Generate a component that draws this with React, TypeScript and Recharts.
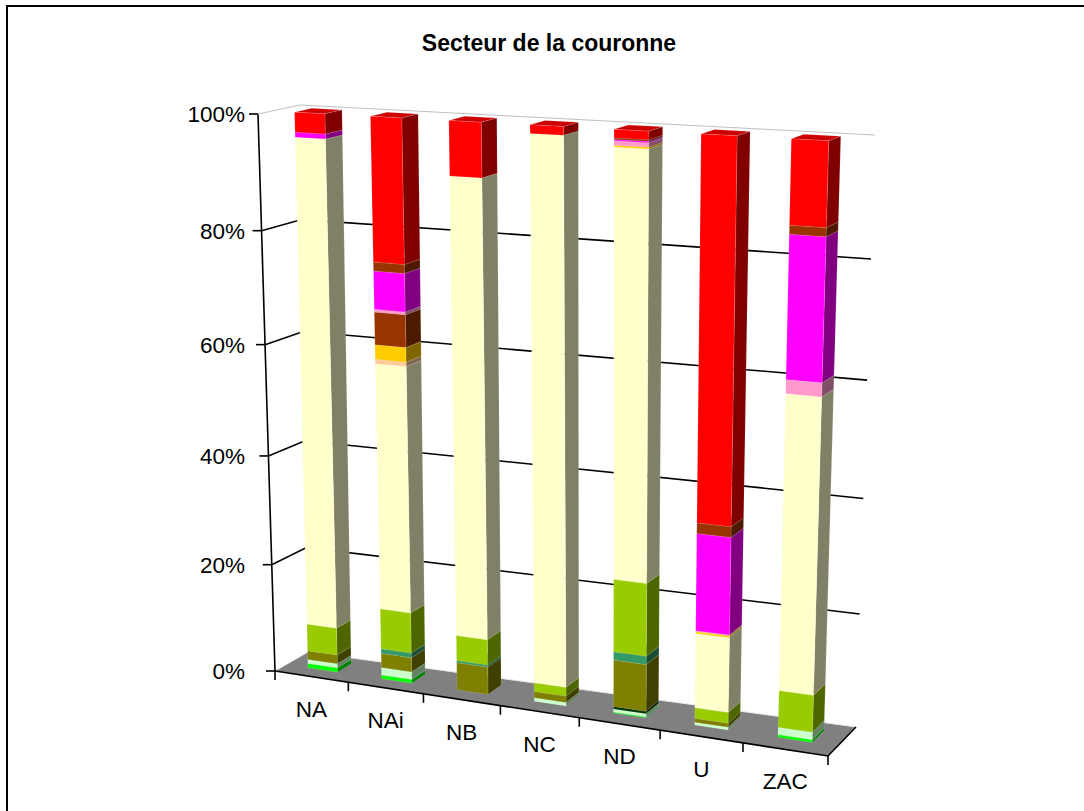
import { BarChart, Bar, XAxis, YAxis, CartesianGrid } from "recharts";

const categories = ["NA", "NAi", "NB", "NC", "ND", "U", "ZAC"];

// share of each land use per sector, bottom of the stack first
const vertVif = [0.83, 0.7, 0, 0, 0.18, 0, 0.48];
const vertPale = [0.76, 1.38, 0, 0.64, 0.54, 0.49, 1.29];
const vertFonce = [0, 0, 0, 0, 0.46, 0, 0];
const olive = [1.66, 2.69, 5.07, 1.16, 8.39, 0.71, 0];
const sarcelle = [0, 0.84, 0.37, 0, 1.49, 0, 0];
const citron = [5.06, 7.45, 4.62, 1.59, 12.89, 1.9, 6.48];
const creme = [87.41, 44.38, 80.68, 95.2, 73.22, 13.18, 50.59];
const peche = [0, 0.76, 0, 0, 0, 0, 0];
const or = [0, 2.57, 0, 0, 0.29, 0.31, 0];
const brique = [0, 5.71, 0, 0, 0, 0, 0];
const rose = [0, 0.49, 0, 0, 0.7, 0.17, 2.32];
const magenta = [0.85, 6.65, 0, 0, 0.23, 16.93, 23.67];
const brun = [0, 1.56, 0, 0, 0.26, 1.83, 1.44];
const rouge = [3.43, 24.82, 9.25, 1.42, 1.38, 64.48, 13.73];

const seriesList: [string, number[], string][] = [
  ["vertVif", vertVif, "#00ff00"],
  ["vertPale", vertPale, "#ccffcc"],
  ["vertFonce", vertFonce, "#003300"],
  ["olive", olive, "#808000"],
  ["sarcelle", sarcelle, "#339966"],
  ["citron", citron, "#99cc00"],
  ["creme", creme, "#ffffcc"],
  ["peche", peche, "#ffcc99"],
  ["or", or, "#ffcc00"],
  ["brique", brique, "#993300"],
  ["rose", rose, "#ff99cc"],
  ["magenta", magenta, "#ff00ff"],
  ["brun", brun, "#993300"],
  ["rouge", rouge, "#ff0000"],
];

const tableData = categories.map((name, i) => {
  const row: Record<string, number | string> = { name };
  seriesList.forEach(([key, values]) => (row[key] = values[i]));
  return row;
});

const valueTicks = [0, 0.2, 0.4, 0.6, 0.8, 1];

// flat plot rectangle handed to recharts; its coordinates get projected below
const PLOT = { left: 100, top: 100, width: 884, height: 611 };
const W = 1084;
const H = 811;

type Pt = [number, number];

// corners of the box in order: front-left, front-right, back-right, back-left
const floorQuad: Pt[] = [[275, 671], [828, 756], [856, 727], [308, 652]];
const roofQuad: Pt[] = [[258, 114], [847, 146], [875, 135], [300, 105]];

const BAR_FRONT = 0.34;
const BAR_BACK = 0.76;

// bands get wider towards the right of the box, a bit more so higher up
const warp = (t: number, q: number) => t / (t + q * (1 - t));

function quadAt(q: Pt[], u: number, w: number): Pt {
  const [a, b, c, d] = q;
  const front = [a[0] + (b[0] - a[0]) * u, a[1] + (b[1] - a[1]) * u];
  const back = [d[0] + (c[0] - d[0]) * u, d[1] + (c[1] - d[1]) * u];
  return [front[0] + (back[0] - front[0]) * w, front[1] + (back[1] - front[1]) * w];
}

function project(u: number, v: number, w: number): Pt {
  const a = quadAt(floorQuad, warp(u, 1.09), w);
  const b = quadAt(roofQuad, warp(u, 1.13), w);
  const t = warp(v, 1.06);
  return [a[0] + (b[0] - a[0]) * t, a[1] + (b[1] - a[1]) * t];
}

const toU = (x: number) => (x - PLOT.left) / PLOT.width;
const toV = (y: number) => 1 - (y - PLOT.top) / PLOT.height;
const pts = (list: Pt[]) => list.map((p) => p.join(",")).join(" ");

function shade(hex: string, k: number) {
  const n = parseInt(hex.slice(1), 16);
  const c = [(n >> 16) & 255, (n >> 8) & 255, n & 255].map((ch) => Math.round(ch * k));
  return `rgb(${c.join(",")})`;
}

function Bar3D(props: any) {
  const { x, y, width, height, fill } = props;
  if (!height || height <= 0) return null;
  const u0 = toU(x);
  const u1 = toU(x + width);
  const vTop = toV(y);
  const vBot = toV(y + height);
  const front = [project(u0, vBot, BAR_FRONT), project(u1, vBot, BAR_FRONT), project(u1, vTop, BAR_FRONT), project(u0, vTop, BAR_FRONT)];
  const side = [project(u1, vBot, BAR_FRONT), project(u1, vBot, BAR_BACK), project(u1, vTop, BAR_BACK), project(u1, vTop, BAR_FRONT)];
  const top = [project(u0, vTop, BAR_FRONT), project(u1, vTop, BAR_FRONT), project(u1, vTop, BAR_BACK), project(u0, vTop, BAR_BACK)];
  return (
    <g stroke="#fff" strokeOpacity={0.22} strokeWidth={0.6}>
      <polygon points={pts(top)} fill={shade(fill, 0.8)} />
      <polygon points={pts(side)} fill={shade(fill, 0.5)} />
      <polygon points={pts(front)} fill={fill} />
    </g>
  );
}

// floor, side wall and back wall lines for one value level
function WallLine(props: any) {
  const v = Math.round(toV(props.y1) * 100) / 100;
  const a = project(0, v, 0);
  const b = project(0, v, 1);
  const c = project(1, v, 1);
  if (v === 0) {
    const d = project(1, 0, 0);
    const roofCorner = project(0, 1, 0);
    return (
      <g key={props.key}>
        <polygon points={pts([a, d, c, b])} fill="#808080" />
        <polyline points={pts([a, b, c])} fill="none" stroke="#e8e8e8" strokeWidth={1} />
        <polyline points={pts([a, d, c])} fill="none" stroke="#000" strokeWidth={1.6} />
        <line x1={a[0]} y1={a[1]} x2={roofCorner[0]} y2={roofCorner[1]} stroke="#000" strokeWidth={1.6} />
      </g>
    );
  }
  return (
    <polyline
      key={props.key}
      points={pts([a, b, c])}
      fill="none"
      stroke={v === 1 ? "#c0c0c0" : "#000"}
      strokeWidth={v === 1 ? 1 : 1.6}
    />
  );
}

function ValueTick(props: any) {
  const v = props.payload.value;
  const [px, py] = project(0, v, 0);
  return (
    <g>
      <line x1={px - 9} y1={py} x2={px} y2={py} stroke="#000" strokeWidth={1.6} />
      <text x={245} y={py + 8} textAnchor="end" fontFamily="Liberation Sans" fontSize={22.5} fill="#000">
        {`${Math.round(v * 100)}%`}
      </text>
    </g>
  );
}

function CategoryTick(props: any) {
  const { x, index, payload } = props;
  const band = 1 / categories.length;
  const u = toU(x);
  const [lx, ly] = project(u, 0, 0);
  const end = project(u + band / 2, 0, 0);
  const start = project(u - band / 2, 0, 0);
  return (
    <g>
      {index === 0 && <line x1={start[0]} y1={start[1]} x2={start[0]} y2={start[1] + 9} stroke="#000" strokeWidth={1.6} />}
      <line x1={end[0]} y1={end[1]} x2={end[0]} y2={end[1] + 9} stroke="#000" strokeWidth={1.6} />
      <text x={lx} y={ly + 40} textAnchor="middle" fontFamily="Liberation Sans" fontSize={22.5} fill="#000">
        {payload.value}
      </text>
    </g>
  );
}

export default function App() {
  return (
    <div style={{ position: "absolute", left: 0, top: 0, width: W, height: H, overflow: "hidden", background: "#fff" }}>
      <div style={{ position: "absolute", left: 6, top: 5, width: W, height: H, borderLeft: "2px solid #000", borderTop: "2px solid #000" }} />
      <div
        style={{
          position: "absolute",
          left: 0,
          top: 30,
          width: 1098,
          textAlign: "center",
          fontFamily: "Liberation Sans",
          fontWeight: "bold",
          fontSize: 23,
        }}
      >
        Secteur de la couronne
      </div>
      <BarChart
        width={W}
        height={H}
        data={tableData}
        stackOffset="expand"
        barCategoryGap="30%"
        margin={{ top: PLOT.top, right: W - PLOT.left - PLOT.width, bottom: H - PLOT.top - PLOT.height - 1, left: PLOT.left - 1 }}
        style={{ position: "absolute", left: 0, top: 0 }}
      >
        <CartesianGrid vertical={false} horizontal={WallLine} />
        <XAxis dataKey="name" height={1} axisLine={false} tickLine={false} tick={CategoryTick} interval={0} />
        <YAxis width={1} domain={[0, 1]} ticks={valueTicks} axisLine={false} tickLine={false} tick={ValueTick} />
        {seriesList.map(([key, , color]) => (
          <Bar key={key} dataKey={key} stackId="a" fill={color} shape={Bar3D} isAnimationActive={false} />
        ))}
      </BarChart>
    </div>
  );
}
